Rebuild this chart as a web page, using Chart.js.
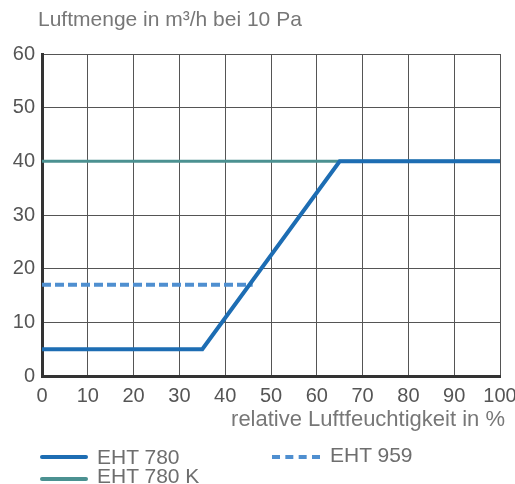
<!DOCTYPE html>
<html><head><meta charset="utf-8">
<script src="https://cdn.jsdelivr.net/npm/chart.js@4/dist/chart.umd.min.js"></script>
<style>
html,body{margin:0;padding:0;background:#fff;}
#wrap{position:relative;width:515px;height:484px;font-family:"Liberation Sans",Arial,sans-serif;}
canvas{position:absolute;left:0;top:0;}
.t{position:absolute;color:#777;font-size:21px;white-space:nowrap;line-height:21px;}
.lg{position:absolute;color:#6e6e6e;font-size:21px;white-space:nowrap;line-height:20px;}
.sw{position:absolute;height:0;}
</style></head>
<body><div id="wrap">
<canvas id="c" width="515" height="484"></canvas>
<div class="t" style="left:38px;top:8px;">Luftmenge in m³/h bei 10 Pa</div>
<div class="t" style="right:10px;top:408px;font-size:22px;">relative Luftfeuchtigkeit in %</div>
<div class="sw" style="left:40px;top:455px;width:48px;border-top:4px solid #1d6db3;border-radius:2px;"></div>
<div class="lg" style="left:97px;top:447px;">EHT 780</div>
<div class="sw" style="left:40px;top:477px;width:48px;border-top:4px solid #4b9191;border-radius:2px;"></div>
<div class="lg" style="left:97px;top:466px;">EHT 780 K</div>
<div class="sw" style="left:272px;top:455px;width:48px;border-top:4px dashed #4f8fd0;"></div>
<div class="lg" style="left:330px;top:445px;">EHT 959</div>
</div>
<script>
const xTicks = [0,10,20,30,40,50,60,70,80,90,100];
const yTicks = [0,10,20,30,40,50,60];
const eht780X = [0,35,65,100];
const eht780Y = [5,5,40,40];
const eht780KX = [0,100];
const eht780KY = [40,40];
const eht959X = [0,46];
const eht959Y = [17,17];
const pts = (xs,ys)=>xs.map((x,i)=>({x:x,y:ys[i]}));
new Chart(document.getElementById('c'),{
  type:'line',
  data:{datasets:[
    {label:'EHT 780 K',data:pts(eht780KX,eht780KY),borderColor:'#4b9191',borderWidth:3,pointRadius:0,order:2},
    {label:'EHT 959',data:pts(eht959X,eht959Y),borderColor:'#4f8fd0',borderWidth:4,borderDash:[9,4],pointRadius:0,order:1},
    {label:'EHT 780',data:pts(eht780X,eht780Y),borderColor:'#1d6db3',borderWidth:4,borderCapStyle:'round',pointRadius:0,order:0}
  ]},
  options:{
    responsive:false,animation:false,
    layout:{padding:{top:54,right:0,left:0,bottom:0}},
    plugins:{legend:{display:false},tooltip:{enabled:false}},
    scales:{
      x:{type:'linear',min:0,max:100,
        afterBuildTicks:s=>{s.ticks=xTicks.map(v=>({value:v}));},
        afterFit:s=>{s.height=108;s.paddingRight=15;},
        ticks:{color:'#555',font:{family:'Liberation Sans',size:20},padding:8,maxRotation:0,autoSkip:false},
        grid:{color:'#555',lineWidth:1,drawTicks:false},
        border:{color:'#333',width:3}},
      y:{min:0,max:60,
        afterBuildTicks:s=>{s.ticks=yTicks.map(v=>({value:v}));},
        afterFit:s=>{s.width=42;},
        ticks:{color:'#555',font:{family:'Liberation Sans',size:20},padding:7},
        grid:{color:'#555',lineWidth:1,drawTicks:false},
        border:{color:'#333',width:3}}
    }
  }
});
</script>
</body></html>
